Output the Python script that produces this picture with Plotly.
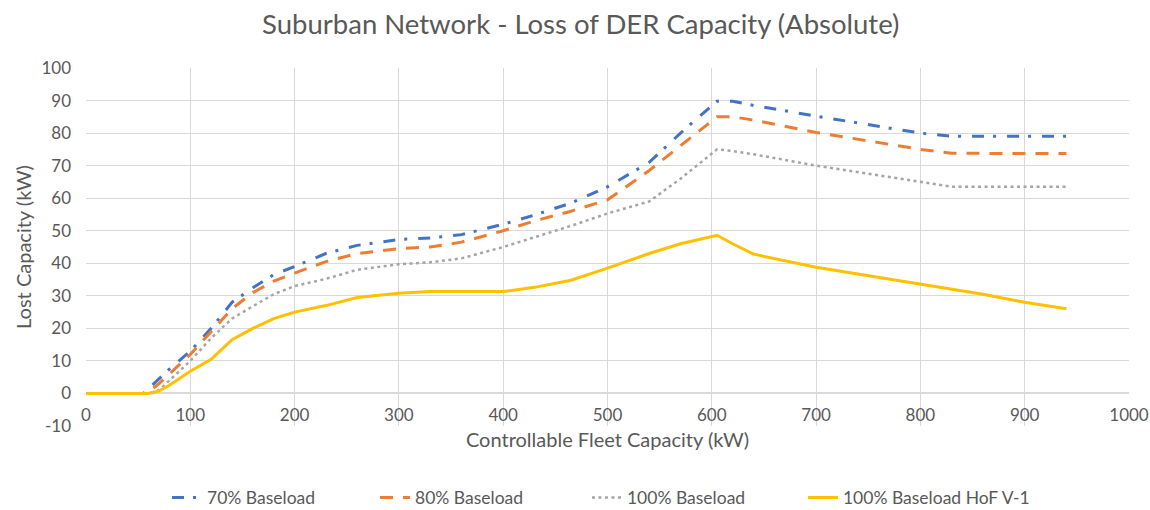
import plotly.graph_objects as go

fleet_kw = [0, 20, 40, 55, 60, 70, 80, 100, 120, 140, 160, 180, 200, 230, 260, 300, 330, 360,
            400, 430, 465, 500, 540, 570, 605, 620, 640, 700, 800, 830, 860, 900, 940]

base70 = [0, 0, 0, 0, 1.5, 4.5, 7.5, 13, 20, 28, 32.5, 36.5, 39, 43, 45.5, 47.3, 47.8, 48.8,
          52, 54.8, 58.5, 63.5, 71, 80, 89.8, 89.8, 88.5, 85.2, 80, 79, 79, 79, 79]
base80 = [0, 0, 0, 0, 0.5, 3, 6, 12, 19, 26, 31, 34.5, 37, 40.5, 43, 44.5, 45, 46.5,
          50, 53, 56, 59.5, 68.5, 76, 85, 85, 84, 80.2, 75, 73.8, 73.8, 73.7, 73.7]
base100 = [0, 0, 0, 0, 0, 1, 4, 10, 17, 23, 26.8, 30.5, 33, 35.2, 38, 39.7, 40.3, 41.5,
           45, 48, 51.5, 55.3, 59, 66, 75, 74.5, 73.5, 70, 65, 63.5, 63.5, 63.5, 63.5]
base100_hof = [0, 0, 0, 0, 0, 0.8, 2.5, 6.8, 10.5, 16.5, 20, 23, 25, 27, 29.5, 30.8, 31.3, 31.3,
               31.3, 32.6, 34.8, 38.5, 43, 46, 48.6, 46, 42.8, 38.8, 33.6, 32, 30.5, 28, 26]

series_names = ["70% Baseload", "80% Baseload", "100% Baseload", "100% Baseload HoF V-1"]
series_values = [base70, base80, base100, base100_hof]
series_colors = ["#4472C4", "#ED7D31", "#A5A5A5", "#FFC000"]
series_dash = ["12px,9px,3px,11px", "13px,10px", "3px,3.5px", "solid"]
series_width = [3, 3, 2.5, 3]

x_ticks = list(range(0, 1001, 100))
y_ticks = list(range(-10, 101, 10))

FONT = "Lato, Carlito, Calibri, sans-serif"
GREY_TXT = "#595959"
GRID = "#D9D9D9"

legend_ids = ["legend", "legend2", "legend3", "legend4"]
legend_x = [0.0777, 0.2771, 0.4803, 0.6874]

fig = go.Figure()
for name, vals, col, dash, w, lid in zip(series_names, series_values, series_colors,
                                          series_dash, series_width, legend_ids):
    fig.add_trace(go.Scatter(x=fleet_kw, y=vals, mode="lines", name=name, legend=lid,
                             line=dict(color=col, dash=dash, width=w)))

legend_layout = {}
for lid, lx in zip(legend_ids, legend_x):
    legend_layout[lid] = dict(orientation="h", x=lx, xanchor="left", y=-0.2, yanchor="middle",
                              font=dict(size=17.5, color=GREY_TXT, family=FONT),
                              itemwidth=30, bgcolor="rgba(0,0,0,0)")

fig.update_layout(
    width=1150, height=510,
    paper_bgcolor="white", plot_bgcolor="white",
    margin=dict(l=86, r=21, t=68, b=84, autoexpand=False),
    font=dict(family=FONT, color=GREY_TXT),
    title=dict(text="Suburban Network - Loss of DER Capacity (Absolute)",
               x=0.505, xanchor="center", y=0.952, yanchor="middle",
               font=dict(size=27.5, color=GREY_TXT, family=FONT)),
    xaxis=dict(range=[0, 1000], tickvals=x_ticks, ticktext=[str(v) for v in x_ticks],
               showgrid=True, gridcolor=GRID, gridwidth=1, zeroline=False,
               showline=False, ticks="", anchor="free", position=10 / 110,
               ticklabelstandoff=10, automargin=False,
               tickfont=dict(size=17, color=GREY_TXT),
               title=dict(text="Controllable Fleet Capacity (kW)", standoff=8,
                          font=dict(size=20, color=GREY_TXT))),
    yaxis=dict(range=[-10, 100], tickvals=y_ticks, ticktext=[str(v) for v in y_ticks],
               showgrid=True, gridcolor=GRID, gridwidth=1,
               zeroline=True, zerolinecolor=GRID, zerolinewidth=1.5,
               showline=False, ticks="", automargin=False, ticklabelstandoff=14,
               tickfont=dict(size=17, color=GREY_TXT),
               title=dict(text="Lost Capacity (kW)", standoff=4,
                          font=dict(size=20, color=GREY_TXT))),
    showlegend=True,
    **legend_layout,
)

fig.write_html("out.html", config={"displayModeBar": False},
               post_script="document.body.style.margin='0';document.body.style.overflow='hidden';")
